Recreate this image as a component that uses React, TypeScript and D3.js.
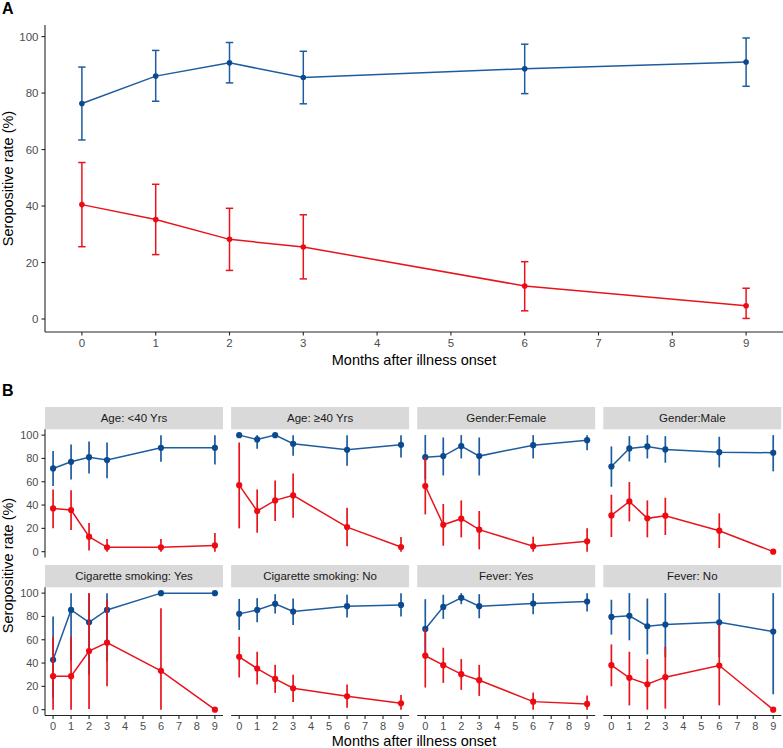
import React from "react";
import * as d3 from "d3";

// ---------- data ----------
const months = [0, 1, 2, 3, 6, 9];
const xTicks = [0, 1, 2, 3, 4, 5, 6, 7, 8, 9];
const yTicks = [0, 20, 40, 60, 80, 100];

// Panel A
const aBlue = [76.3, 86.0, 90.7, 85.5, 88.6, 91.0];
const aBlueLo = [63.4, 77.1, 83.6, 76.2, 79.8, 82.4];
const aBlueHi = [89.2, 95.1, 97.9, 94.8, 97.3, 99.5];
const aRed = [40.5, 35.2, 28.2, 25.5, 11.7, 4.7];
const aRedLo = [25.6, 22.8, 17.2, 14.2, 2.9, 0.2];
const aRedHi = [55.4, 47.7, 39.2, 36.9, 20.3, 10.9];

// Panel B facets
const facetLabels = [
  "Age: <40 Yrs",
  "Age: \u226540 Yrs",
  "Gender:Female",
  "Gender:Male",
  "Cigarette smoking: Yes",
  "Cigarette smoking: No",
  "Fever: Yes",
  "Fever: No",
];
const bBlue = [
  [71.4, 77.1, 81.1, 78.6, 89.1, 89.1],
  [100, 96.3, 100, 92.6, 87.4, 91.7],
  [81.1, 82.0, 90.6, 82.0, 91.4, 95.7],
  [73.1, 88.6, 90.3, 87.7, 85.4, 84.9],
  [42.8, 85.6, 75.0, 85.6, 100, 100],
  [82.2, 85.6, 90.8, 84.2, 88.8, 89.9],
  [69.3, 88.2, 96.0, 88.8, 91.1, 92.8],
  [79.6, 80.5, 71.6, 73.0, 75.0, 67.0],
];
const bBlueLo = [
  [56.3, 62.0, 67.1, 62.9, 77.1, 74.9],
  [100, 88.3, 100, 82.3, 73.7, 80.9],
  [62.0, 65.4, 80.0, 65.4, 80.0, 87.1],
  [55.7, 77.4, 80.0, 76.3, 72.3, 68.9],
  [10.0, 42.0, 30.0, 42.0, 100, 100],
  [68.4, 75.0, 82.5, 72.7, 79.0, 79.9],
  [45.0, 77.9, 90.5, 78.4, 81.9, 84.2],
  [64.4, 59.5, 47.4, 45.0, 45.0, 13.2],
];
const bBlueHi = [
  [86.3, 92.0, 94.6, 93.7, 100, 100],
  [100, 100, 100, 100, 100, 100],
  [100, 98.0, 100, 98.0, 100, 100],
  [90.3, 99.1, 100, 99.1, 98.6, 100],
  [79.9, 100, 100, 100, 100, 100],
  [95.1, 95.7, 99.1, 95.4, 98.6, 100],
  [94.8, 98.6, 100, 99.1, 100, 100],
  [94.3, 100, 95.4, 100, 100, 100],
];
const bRed = [
  [37.1, 35.7, 12.9, 3.7, 3.7, 5.4],
  [57.1, 34.9, 44.0, 48.3, 21.1, 4.0],
  [56.3, 23.1, 28.3, 18.9, 4.6, 8.9],
  [31.1, 43.1, 28.6, 30.9, 18.0, 0],
  [28.7, 28.7, 50.3, 57.5, 33.3, 0],
  [45.4, 35.3, 26.4, 18.4, 11.5, 5.5],
  [46.3, 38.2, 30.5, 25.3, 6.9, 4.9],
  [38.2, 27.3, 21.8, 27.9, 37.9, 0],
];
const bRedLo = [
  [20.0, 18.6, 0.9, 0, 0, 0],
  [20.0, 16.3, 26.3, 29.1, 4.6, 0],
  [32.0, 5.1, 12.3, 2.0, 0, 0],
  [12.6, 26.0, 12.3, 14.3, 3.1, 0],
  [0, 0, 0.6, 20.1, 0, 0],
  [27.6, 21.6, 14.4, 6.6, 1.7, 0],
  [19.0, 23.0, 17.0, 11.8, 0, 0],
  [20.1, 3.7, 0, 0.9, 3.7, 0],
];
const bRedHi = [
  [53.4, 52.6, 24.6, 10.9, 10.9, 16.0],
  [93.7, 53.4, 61.1, 67.1, 37.7, 12.6],
  [81.1, 40.9, 44.0, 34.9, 12.9, 20.0],
  [48.9, 59.7, 44.0, 46.3, 32.9, 0],
  [62.6, 62.6, 100, 94.3, 87.0, 0],
  [62.6, 49.7, 38.5, 29.9, 21.6, 12.6],
  [69.3, 53.2, 43.4, 38.5, 14.7, 12.1],
  [56.0, 49.7, 43.4, 54.0, 72.7, 0],
];

// ---------- styles ----------
const BLUE_LINE = "#1d5c9f";
const BLUE_PT = "#0b4a8e";
const RED_LINE = "#e8141c";
const RED_PT = "#ee0a12";
const FONT = "'Liberation Sans', Arial, Helvetica, sans-serif";
const AXIS = "#262626";
const TICK_TXT = "#4d4d4d";

type Series = { v: number[]; lo: number[]; hi: number[]; line: string; pt: string };

function PanelA() {
  const x = d3.scaleLinear().domain([-0.5, 9.5]).range([45, 783]);
  const y = d3.scaleLinear().domain([-4.6, 104.1]).range([332, 25]);
  const line = d3
    .line<[number, number]>()
    .x((d) => x(d[0]))
    .y((d) => y(d[1]));
  const series: Series[] = [
    { v: aBlue, lo: aBlueLo, hi: aBlueHi, line: BLUE_LINE, pt: BLUE_PT },
    { v: aRed, lo: aRedLo, hi: aRedHi, line: RED_LINE, pt: RED_PT },
  ];
  const capHalf = x(0.05) - x(0);
  return (
    <g>
      <text x={2} y={14} fontSize={16} fontWeight="bold" fontFamily={FONT}>
        A
      </text>
      {series.map((s, si) => (
        <g key={si}>
          <path
            d={line(months.map((m, i) => [m, s.v[i]]) as [number, number][]) || ""}
            fill="none"
            stroke={s.line}
            strokeWidth={1.5}
          />
          {months.map((m, i) => (
            <g key={i} stroke={s.line} strokeWidth={1.5}>
              <line x1={x(m)} x2={x(m)} y1={y(s.lo[i])} y2={y(s.hi[i])} />
              <line x1={x(m) - capHalf} x2={x(m) + capHalf} y1={y(s.lo[i])} y2={y(s.lo[i])} />
              <line x1={x(m) - capHalf} x2={x(m) + capHalf} y1={y(s.hi[i])} y2={y(s.hi[i])} />
            </g>
          ))}
          {months.map((m, i) => (
            <circle key={i} cx={x(m)} cy={y(s.v[i])} r={2.8} fill={s.pt} />
          ))}
        </g>
      ))}
      {/* axes */}
      <line x1={45} x2={45} y1={25} y2={332} stroke={AXIS} strokeWidth={1.1} />
      <line x1={45} x2={783} y1={332} y2={332} stroke={AXIS} strokeWidth={1.1} />
      {yTicks.map((t) => (
        <g key={t}>
          <line x1={41.5} x2={45} y1={y(t)} y2={y(t)} stroke={AXIS} strokeWidth={1.1} />
          <text
            x={38.5}
            y={y(t)}
            dy="0.35em"
            textAnchor="end"
            fontSize={11.5}
            fill={TICK_TXT}
            fontFamily={FONT}
          >
            {t}
          </text>
        </g>
      ))}
      {xTicks.map((t) => (
        <g key={t}>
          <line x1={x(t)} x2={x(t)} y1={332} y2={335.5} stroke={AXIS} strokeWidth={1.1} />
          <text
            x={x(t)}
            y={347}
            textAnchor="middle"
            fontSize={11.5}
            fill={TICK_TXT}
            fontFamily={FONT}
          >
            {t}
          </text>
        </g>
      ))}
      <text
        x={(45 + 783) / 2}
        y={365}
        textAnchor="middle"
        fontSize={14.5}
        fontFamily={FONT}
        fill="#000"
      >
        Months after illness onset
      </text>
      <text
        transform={`translate(13,${(25 + 332) / 2}) rotate(-90)`}
        textAnchor="middle"
        fontSize={14.5}
        fontFamily={FONT}
        fill="#000"
      >
        Seropositive rate (%)
      </text>
    </g>
  );
}

function PanelB() {
  const panelW = 178;
  const step = 186.1;
  const stripH = 22.3;
  const panelH = 128.2;
  const rowTops = [407, 565];
  const line = (x: d3.ScaleLinear<number, number>, y: d3.ScaleLinear<number, number>) =>
    d3
      .line<[number, number]>()
      .x((d) => x(d[0]))
      .y((d) => y(d[1]));
  return (
    <g>
      <text x={2} y={396} fontSize={16} fontWeight="bold" fontFamily={FONT}>
        B
      </text>
      {facetLabels.map((lab, fi) => {
        const col = fi % 4;
        const row = Math.floor(fi / 4);
        const x0 = 45 + col * step;
        const sTop = rowTops[row];
        const pTop = sTop + stripH;
        const pBot = pTop + panelH;
        const x = d3.scaleLinear().domain([-0.45, 9.45]).range([x0, x0 + panelW]);
        const y = d3.scaleLinear().domain([-5, 105]).range([pBot, pTop]);
        const ln = line(x, y);
        const series: Series[] = [
          { v: bBlue[fi], lo: bBlueLo[fi], hi: bBlueHi[fi], line: BLUE_LINE, pt: BLUE_PT },
          { v: bRed[fi], lo: bRedLo[fi], hi: bRedHi[fi], line: RED_LINE, pt: RED_PT },
        ];
        return (
          <g key={fi}>
            <rect x={x0} y={sTop} width={panelW} height={stripH} fill="#d9d9d9" />
            <text
              x={x0 + panelW / 2}
              y={sTop + stripH / 2}
              dy="0.35em"
              textAnchor="middle"
              fontSize={11.5}
              fill="#1a1a1a"
              fontFamily={FONT}
            >
              {lab}
            </text>
            {series.map((s, si) => (
              <g key={si}>
                <path
                  d={ln(months.map((m, i) => [m, s.v[i]]) as [number, number][]) || ""}
                  fill="none"
                  stroke={s.line}
                  strokeWidth={1.5}
                />
                {months.map((m, i) => (
                  <line
                    key={i}
                    x1={x(m)}
                    x2={x(m)}
                    y1={y(s.lo[i])}
                    y2={y(s.hi[i])}
                    stroke={s.line}
                    strokeWidth={1.7}
                  />
                ))}
                {months.map((m, i) => (
                  <circle key={i} cx={x(m)} cy={y(s.v[i])} r={3.1} fill={s.pt} />
                ))}
              </g>
            ))}
            {/* y axis only on first column */}
            {col === 0 && (
              <g>
                <line x1={x0} x2={x0} y1={pTop} y2={pBot} stroke={AXIS} strokeWidth={1.1} />
                {yTicks.map((t) => (
                  <g key={t}>
                    <line x1={x0 - 3.5} x2={x0} y1={y(t)} y2={y(t)} stroke={AXIS} strokeWidth={1.1} />
                    <text
                      x={x0 - 6.5}
                      y={y(t)}
                      dy="0.35em"
                      textAnchor="end"
                      fontSize={11}
                      fill={TICK_TXT}
                      fontFamily={FONT}
                    >
                      {t}
                    </text>
                  </g>
                ))}
              </g>
            )}
            {row === 1 && (
              <g>
                <line x1={x0} x2={x0 + panelW} y1={pBot} y2={pBot} stroke={AXIS} strokeWidth={1.1} />
                {xTicks.map((t) => (
                  <g key={t}>
                    <line x1={x(t)} x2={x(t)} y1={pBot} y2={pBot + 3.5} stroke={AXIS} strokeWidth={1.1} />
                    <text
                      x={x(t)}
                      y={pBot + 14.5}
                      textAnchor="middle"
                      fontSize={11}
                      fill={TICK_TXT}
                      fontFamily={FONT}
                    >
                      {t}
                    </text>
                  </g>
                ))}
              </g>
            )}
          </g>
        );
      })}
      <text
        x={(45 + 783) / 2}
        y={746}
        textAnchor="middle"
        fontSize={14.5}
        fontFamily={FONT}
        fill="#000"
      >
        Months after illness onset
      </text>
      <text
        transform={`translate(13,${(407 + 714) / 2 + 5}) rotate(-90)`}
        textAnchor="middle"
        fontSize={14.5}
        fontFamily={FONT}
        fill="#000"
      >
        Seropositive rate (%)
      </text>
    </g>
  );
}

export default function App() {
  return (
    <svg width={783} height={748} style={{ display: "block", position: "absolute", left: 0, top: 0 }}>
      <rect width={783} height={748} fill="#fff" />
      <PanelA />
      <PanelB />
    </svg>
  );
}
